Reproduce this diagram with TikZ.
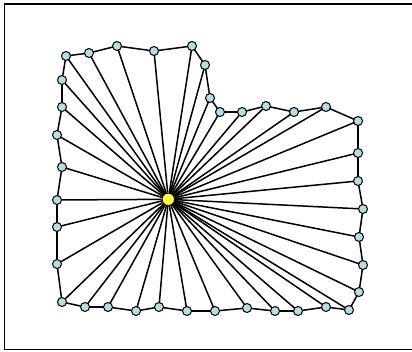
\documentclass[tikz,border=0pt]{standalone}
\usetikzlibrary{backgrounds}
\definecolor{ptfill}{RGB}{178,222,228}
\definecolor{ctrfill}{RGB}{255,250,60}
\tikzset{
  pt/.style={circle,draw=black,line width=1pt,fill=ptfill,minimum size=9pt,inner sep=0pt},
  ctr/.style={circle,draw=black,line width=1pt,fill=ctrfill,minimum size=12.5pt,inner sep=0pt},
  edge/.style={line width=1.5pt,black},
  rim/.style={line width=1.5pt,black},
  frame/.style={line width=1.7pt,black}
}
\begin{document}
\begin{tikzpicture}[x=1pt,y=-1pt]
\useasboundingbox (0,0) rectangle (412,351);
\clip (0,0) rectangle (412,351);
\draw[frame] (4.5,4) rectangle (414,349.5);
\node[ctr] (c) at (168.3,199.3) {};
\foreach \x/\y [count=\i] in {66/56,89/53,117/46,154/51,192/46,205/65,210/98,220/112,242/112,266/106,294/112,326/107,358/121,358/153,358/181,363/209,359/237,363/265,359/292,349/310,326/307,298/311,275/311,247/308,215/311,187/311,159/307,136/311,108/307,85/307,62/302,57/264,57/227,57/200,62/167,57/135,62/107,62/80}
  \node[pt] (p\i) at (\x,\y) {};
\begin{scope}[on background layer]
  \foreach \i in {1,...,38} \draw[edge] (c) -- (p\i.center);
  \foreach \i [evaluate=\i as \j using {int(mod(\i,38)+1)}] in {1,...,38}
    \draw[rim] (p\i.center) -- (p\j.center);
\end{scope}
\end{tikzpicture}
\end{document}
